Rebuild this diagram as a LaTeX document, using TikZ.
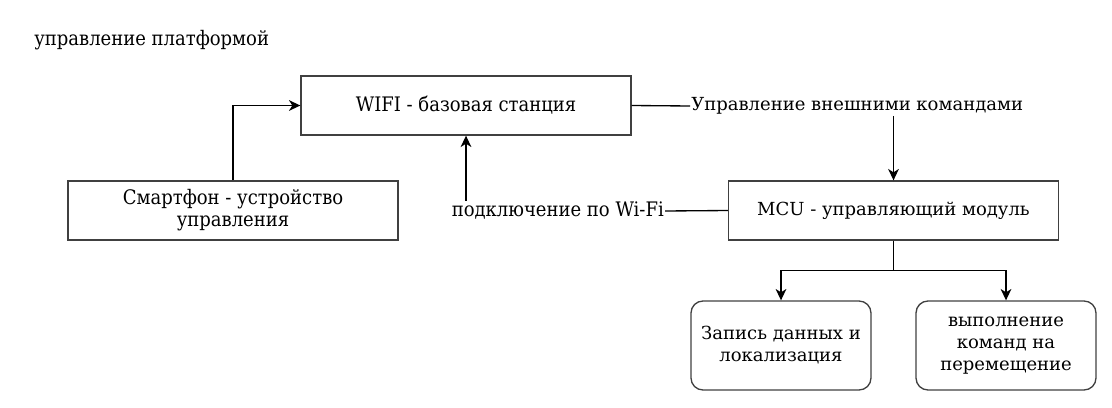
\documentclass[tikz,border=0pt]{standalone}
\usepackage{fontspec}
\setmainfont{DejaVu Serif}
\newfontfamily\condfont{DejaVu Serif Condensed}
\usetikzlibrary{arrows.meta}

\begin{document}
\begin{tikzpicture}
[x=0.75pt, y=-0.75pt, line width=1pt,
font=\fontsize{13.5}{16.5}\selectfont,
cond/.style={font=\condfont\fontsize{15}{16.5}\selectfont},
box/.style={rectangle, draw=black!75, align=center, inner sep=0pt, minimum width=247.5pt, minimum height=44.25pt},
rbox/.style={rectangle, rounded corners=9pt, draw=black!75, align=center, inner sep=0pt, minimum width=135pt, minimum height=66.75pt},
lbl/.style={inner sep=0.5pt},
arr/.style={-{Stealth[length=8.5pt, width=8pt, inset=2.5pt]}}]

\useasboundingbox (0,0) rectangle (1112,407);

\node[lbl, cond, anchor=west] (title) at (33,40) {управление платформой};

\node[box, cond] (wifi) at (466,105.5) {WIFI - базовая станция};
\node[box, cond] (phone) at (233,210.5) {Смартфон - устройство\\управления};
\node[box] (mcu) at (893.5,210.5) {MCU - управляющий модуль};

\node[rbox] (rec) at (781,345.5) {Запись данных и\\локализация};
\node[rbox] (move) at (1006,345.5) {выполнение\\команд на\\перемещение};

\node[lbl, anchor=west] (extcmd) at (690,106) {Управление внешними командами};
\node[lbl, cond, anchor=east] (wifilink) at (665,211) {подключение по Wi-Fi};

\draw[arr] (phone.north) |- (wifi.west);
\draw (wifi.east) -- (extcmd.west);
\draw[arr] (extcmd.south -| mcu.north) -- (mcu.north);
\draw (mcu.west) -- (wifilink.east);
\draw[arr] (wifilink.north -| wifi.south) -- (wifi.south);

\draw[arr] (mcu.south) -- ++(0,30) -| (rec.north);
\draw[arr] (mcu.south) -- ++(0,30) -| (move.north);

\end{tikzpicture}
\end{document}
